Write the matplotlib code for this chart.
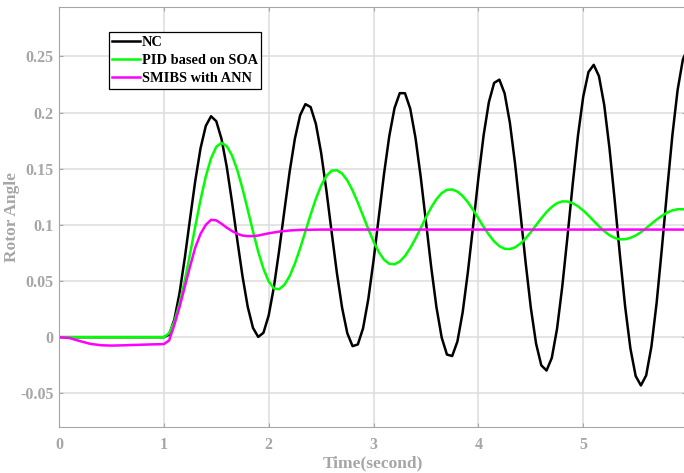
import numpy as np
import matplotlib
matplotlib.use('Agg')
import matplotlib.pyplot as plt

# sample times: t=0 then every 0.05 s from 1.0 to 6.0
t_grid = [0.0] + list(np.round(np.arange(1.0, 6.001, 0.05), 2))

nc = [0.0,
      0.0, 0.0022, 0.0156, 0.0395, 0.0707, 0.1055, 0.1394, 0.1682, 0.1881, 0.1967,
      0.1923, 0.1765, 0.1516, 0.1205, 0.0867, 0.0543, 0.0270, 0.0083, 0.0002, 0.0039,
      0.0194, 0.0449, 0.0774, 0.1129, 0.1475, 0.1769, 0.1977, 0.2075, 0.2049, 0.1899,
      0.1642, 0.1309, 0.0938, 0.0574, 0.0262, 0.0034, -0.0080, -0.0065, 0.0079, 0.0339,
      0.0683, 0.1070, 0.1455, 0.1790, 0.2040, 0.2173, 0.2172, 0.2034, 0.1775, 0.1426,
      0.1026, 0.0623, 0.0266, -0.0004, -0.0155, -0.0168, -0.0038, 0.0222, 0.0582, 0.0995,
      0.1418, 0.1799, 0.2093, 0.2264, 0.2293, 0.2171, 0.1911, 0.1543, 0.1113, 0.0668,
      0.0262, -0.0057, -0.0251, -0.0297, -0.0185, 0.0074, 0.0451, 0.0899, 0.1368, 0.1797,
      0.2143, 0.2361, 0.2425, 0.2324, 0.2068, 0.1684, 0.1219, 0.0728, 0.0269, -0.0102,
      -0.0346, -0.0430, -0.0341, -0.0085, 0.0307, 0.0791, 0.1308, 0.1797, 0.2201, 0.2472,
      0.2580]

pid = [0.0,
       0.0, 0.0035, 0.0137, 0.0299, 0.0506, 0.0742, 0.0988, 0.1224, 0.1431, 0.1593,
       0.1695, 0.1730, 0.1701, 0.1618, 0.1489, 0.1323, 0.1135, 0.0942, 0.0761, 0.0609,
       0.0496, 0.0434, 0.0427, 0.0466, 0.0545, 0.0656, 0.0792, 0.0942, 0.1092, 0.1232,
       0.1350, 0.1435, 0.1482, 0.1487, 0.1457, 0.1395, 0.1306, 0.1199, 0.1081, 0.0962,
       0.0851, 0.0758, 0.0690, 0.0653, 0.0649, 0.0673, 0.0723, 0.0793, 0.0878, 0.0972,
       0.1067, 0.1155, 0.1229, 0.1283, 0.1312, 0.1315, 0.1296, 0.1257, 0.1201, 0.1133,
       0.1058, 0.0982, 0.0912, 0.0853, 0.0810, 0.0787, 0.0784, 0.0800, 0.0833, 0.0879,
       0.0935, 0.0997, 0.1058, 0.1114, 0.1160, 0.1193, 0.1209, 0.1208, 0.1193, 0.1165,
       0.1128, 0.1083, 0.1035, 0.0987, 0.0944, 0.0908, 0.0883, 0.0871, 0.0872, 0.0884,
       0.0905, 0.0935, 0.0971, 0.1009, 0.1047, 0.1081, 0.1109, 0.1129, 0.1139, 0.1139,
       0.1134]

t_ann = [0.0, 0.1, 0.2, 0.3, 0.4, 0.5, 0.6, 0.7, 0.8, 0.9, 1.0,
         1.05, 1.1, 1.15, 1.2, 1.25, 1.3, 1.35, 1.4, 1.45, 1.5,
         1.55, 1.6, 1.65, 1.7, 1.75, 1.8, 1.85, 1.9, 1.95, 2.0,
         2.1, 2.2, 2.3, 2.5, 3.0, 4.0, 5.0, 6.0]
ann = [0.0, -0.0008, -0.0035, -0.0060, -0.0072, -0.0075, -0.0073, -0.0070, -0.0067, -0.0064, -0.0062,
       -0.0030, 0.0110, 0.0270, 0.0450, 0.0630, 0.0800, 0.0920, 0.1000, 0.1045, 0.1040,
       0.1010, 0.0975, 0.0945, 0.0920, 0.0905, 0.0900, 0.0900, 0.0905, 0.0915, 0.0925,
       0.0940, 0.0950, 0.0955, 0.0958, 0.0958, 0.0958, 0.0958, 0.0958]

labels = ['NC', 'PID based on SOA', 'SMIBS with ANN']
gray = '#a6a6a6'

plt.rcParams['font.family'] = ['Liberation Serif', 'DejaVu Serif']
plt.rcParams['font.weight'] = 'bold'

fig = plt.figure(figsize=(6.84, 4.73), dpi=100)
ax = fig.add_axes([59 / 684, 46 / 473, 627 / 684, 420 / 473])

ax.plot(t_grid, nc, color='black', linewidth=1.8, label=labels[0])
ax.plot(t_grid, pid, color='#00ff00', linewidth=1.8, label=labels[1])
ax.plot(t_ann, ann, color='#ff00ff', linewidth=1.8, label=labels[2])

ax.set_xlim(0, 5.98)
ax.set_ylim(-0.08, 0.294)
ax.set_xticks([0, 1, 2, 3, 4, 5])
ax.set_yticks([-0.05, 0, 0.05, 0.1, 0.15, 0.2, 0.25])
ax.set_yticklabels(['-0.05', '0', '0.05', '0.1', '0.15', '0.2', '0.25'])
ax.grid(True, color='#dcdcdc', linewidth=1.1)
ax.set_axisbelow(True)
for s in ax.spines.values():
    s.set_color(gray)
ax.tick_params(direction='in', length=3, colors=gray, labelsize=11.5,
               top=True, right=True)
ax.tick_params(axis='y', pad=4)
ax.tick_params(axis='x', pad=7)
for lab in ax.get_xticklabels() + ax.get_yticklabels():
    lab.set_fontweight('bold')

ax.set_xlabel('Time(second)', fontsize=12.5, fontweight='bold', color=gray)
ax.set_ylabel('Rotor Angle', fontsize=12.5, fontweight='bold', color=gray)
ax.xaxis.set_label_coords(0.5, -0.068)
ax.yaxis.set_label_coords(-0.062, 0.5)

leg = ax.legend(loc='upper left', bbox_to_anchor=(0.079, 0.9405), borderaxespad=0,
                fancybox=False, framealpha=1, edgecolor='black',
                handlelength=1.9, handletextpad=0.15, labelspacing=0.36, borderpad=0.25,
                prop={'weight': 'bold', 'size': 10.4})
leg.get_frame().set_linewidth(0.9)

fig.savefig('out.png', dpi=100)
